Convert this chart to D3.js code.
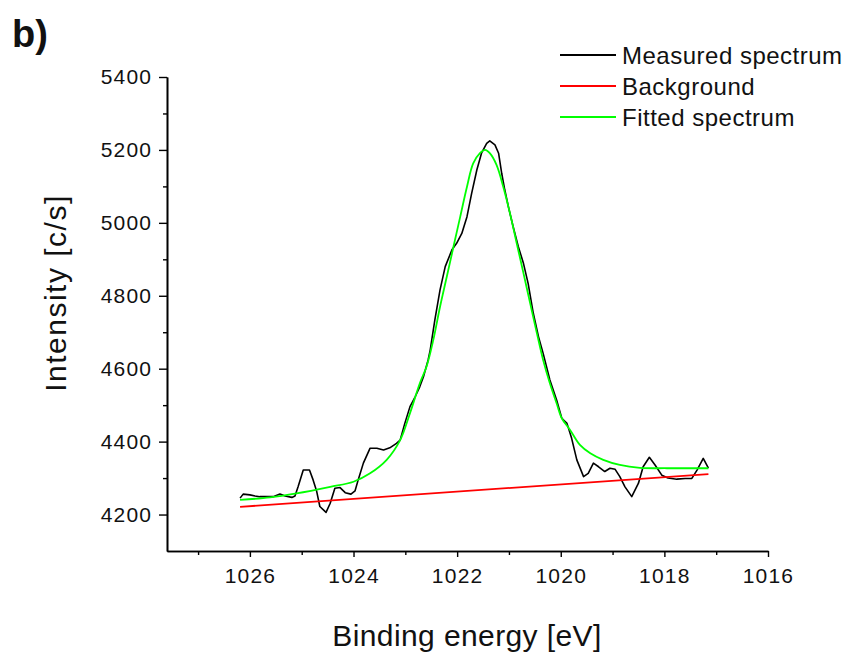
<!DOCTYPE html>
<html>
<head>
<meta charset="utf-8">
<script src="https://cdn.jsdelivr.net/npm/d3@7"></script>
<style>
  html, body { margin: 0; padding: 0; background: #fff; }
  svg { display: block; }
  text { font-family: "Liberation Sans", Arial, sans-serif; fill: #111; }
</style>
</head>
<body>
<script>
// ---- data ----
const energyMeasured = [1026.19, 1026.13, 1026.00, 1025.90, 1025.81, 1025.68, 1025.55, 1025.42, 1025.32, 1025.19,
  1025.13, 1025.07, 1024.97, 1024.85, 1024.78, 1024.71, 1024.65, 1024.53, 1024.45, 1024.36,
  1024.26, 1024.16, 1024.05, 1023.97, 1023.91, 1023.81, 1023.68, 1023.55, 1023.42, 1023.30,
  1023.17, 1023.10, 1023.01, 1022.91, 1022.81, 1022.72, 1022.65, 1022.56, 1022.52, 1022.43,
  1022.33, 1022.23, 1022.10, 1022.01, 1021.91, 1021.81, 1021.72, 1021.62, 1021.53, 1021.43,
  1021.37, 1021.27, 1021.20, 1021.14, 1021.08, 1021.01, 1020.92, 1020.82, 1020.72, 1020.63,
  1020.53, 1020.43, 1020.34, 1020.21, 1020.08, 1019.98, 1019.88, 1019.79, 1019.69, 1019.56,
  1019.47, 1019.37, 1019.27, 1019.15, 1019.05, 1018.95, 1018.86, 1018.76, 1018.63, 1018.50,
  1018.41, 1018.29, 1018.18, 1018.05, 1017.93, 1017.76, 1017.60, 1017.47, 1017.37, 1017.25, 1017.15];
const intensityMeasured = [4245, 4256, 4254, 4251, 4249, 4249, 4249, 4256, 4251, 4247,
  4251, 4276, 4322, 4322, 4295, 4263, 4222, 4206, 4231, 4272,
  4274, 4260, 4256, 4265, 4295, 4341, 4382, 4382, 4377, 4383,
  4395, 4404, 4450, 4496, 4523, 4551, 4578, 4624, 4651, 4734,
  4816, 4880, 4926, 4944, 4971, 5017, 5081, 5145, 5191, 5218,
  5225, 5214, 5191, 5136, 5090, 5044, 4990, 4935, 4889, 4834,
  4752, 4688, 4642, 4569, 4514, 4464, 4450, 4409, 4350, 4304,
  4313, 4341, 4331, 4318, 4327, 4324, 4304, 4276, 4249, 4286,
  4331, 4357, 4336, 4308, 4300, 4297, 4299, 4299, 4322, 4354, 4327];

const energyFitted = [1026.19, 1025.61, 1025.10, 1024.45, 1024.00, 1023.68, 1023.36, 1023.10, 1022.91, 1022.72,
  1022.59, 1022.46, 1022.33, 1022.20, 1022.07, 1021.94, 1021.81, 1021.69, 1021.56, 1021.46,
  1021.37, 1021.24, 1021.11, 1020.98, 1020.85, 1020.72, 1020.59, 1020.46, 1020.34, 1020.21,
  1020.08, 1019.98, 1019.82, 1019.63, 1019.43, 1019.18, 1018.86, 1018.47, 1017.95, 1017.15];
const intensityFitted = [4240, 4247, 4258, 4276, 4290, 4313, 4350, 4404, 4478, 4560,
  4606, 4679, 4770, 4852, 4935, 5017, 5099, 5163, 5191, 5200,
  5191, 5159, 5099, 5026, 4944, 4862, 4779, 4697, 4624, 4560,
  4505, 4464, 4432, 4391, 4368, 4350, 4336, 4328, 4327, 4327];

const energyBackground = [1026.19, 1017.15];
const intensityBackground = [4221, 4311];

const xMajorTicks = [1026, 1024, 1022, 1020, 1018, 1016];
const xMinorTicks = [1027, 1025, 1023, 1021, 1019, 1017];
const yMajorTicks = [4200, 4400, 4600, 4800, 5000, 5200, 5400];
const yMinorTicks = [4300, 4500, 4700, 4900, 5100, 5300];

const seriesNames = ["Measured spectrum", "Background", "Fitted spectrum"];
const seriesColors = ["#000000", "#ff0000", "#00ff00"];

// ---- chart ----
const W = 850, H = 658;
const svg = d3.select("body").append("svg").attr("width", W).attr("height", H);

const x = d3.scaleLinear().domain([1027.6, 1016]).range([167, 768]);
const y = d3.scaleLinear().domain([4100, 5400]).range([551, 77]);

// axes
const axisFont = "21px";
const yMinor = svg.append("g").attr("transform", "translate(167,0)")
  .call(d3.axisLeft(y).tickValues(yMinorTicks).tickSize(4).tickSizeOuter(0).tickFormat(""));
const yMajor = svg.append("g").attr("transform", "translate(167,0)")
  .call(d3.axisLeft(y).tickValues(yMajorTicks).tickSize(8).tickSizeOuter(0).tickPadding(8).tickFormat(d3.format("d")));
const xMinor = svg.append("g").attr("transform", "translate(0,551)")
  .call(d3.axisBottom(x).tickValues(xMinorTicks).tickSize(4).tickSizeOuter(0).tickFormat(""));
const xMajor = svg.append("g").attr("transform", "translate(0,551)")
  .call(d3.axisBottom(x).tickValues(xMajorTicks).tickSize(6).tickSizeOuter(0).tickPadding(11).tickFormat(d3.format("d")));

[yMinor, yMajor, xMinor, xMajor].forEach(g => {
  g.selectAll("path.domain").attr("stroke", "#000").attr("stroke-width", 1.6);
  g.selectAll(".tick line").attr("stroke", "#000").attr("stroke-width", 1.4);
  g.selectAll(".tick text").attr("font-size", axisFont).attr("fill", "#222")
    .style("letter-spacing", "1.2px")
    .attr("font-family", "'Liberation Sans', Arial, sans-serif");
});
yMajor.selectAll(".tick text").attr("dx", "1.2px");

// lines
const line = d3.line().x(d => x(d[0])).y(d => y(d[1]));
const smooth = d3.line().x(d => x(d[0])).y(d => y(d[1])).curve(d3.curveCatmullRom);

const measured = energyMeasured.map((e, i) => [e, intensityMeasured[i]]);
const fitted = energyFitted.map((e, i) => [e, intensityFitted[i]]);
const background = energyBackground.map((e, i) => [e, intensityBackground[i]]);

svg.append("path").datum(measured).attr("d", line)
  .attr("fill", "none").attr("stroke", seriesColors[0]).attr("stroke-width", 1.6).attr("stroke-linejoin", "round");
svg.append("path").datum(background).attr("d", line)
  .attr("fill", "none").attr("stroke", seriesColors[1]).attr("stroke-width", 1.8);
svg.append("path").datum(fitted).attr("d", smooth)
  .attr("fill", "none").attr("stroke", seriesColors[2]).attr("stroke-width", 1.8);

// legend
const legend = svg.append("g");
seriesNames.forEach((name, i) => {
  const cy = 55 + i * 31;
  legend.append("line").attr("x1", 560).attr("x2", 616).attr("y1", cy).attr("y2", cy)
    .attr("stroke", seriesColors[i]).attr("stroke-width", 1.8);
  legend.append("text").attr("x", 622).attr("y", cy + 8.5).attr("font-size", "24px")
    .style("letter-spacing", "0.5px").attr("fill", "#111").text(name);
});

// axis titles
svg.append("text").attr("x", 467).attr("y", 646).attr("text-anchor", "middle")
  .attr("font-size", "30px").style("letter-spacing", "0.4px").attr("fill", "#222").text("Binding energy [eV]");
svg.append("text").attr("transform", "translate(66,293) rotate(-90)").attr("text-anchor", "middle")
  .attr("font-size", "30px").style("letter-spacing", "1.5px").attr("fill", "#222").text("Intensity [c/s]");

// panel label
svg.append("text").attr("x", 12).attr("y", 47).attr("font-size", "38px").attr("font-weight", "bold")
  .attr("fill", "#000").text("b)");
</script>
</body>
</html>
